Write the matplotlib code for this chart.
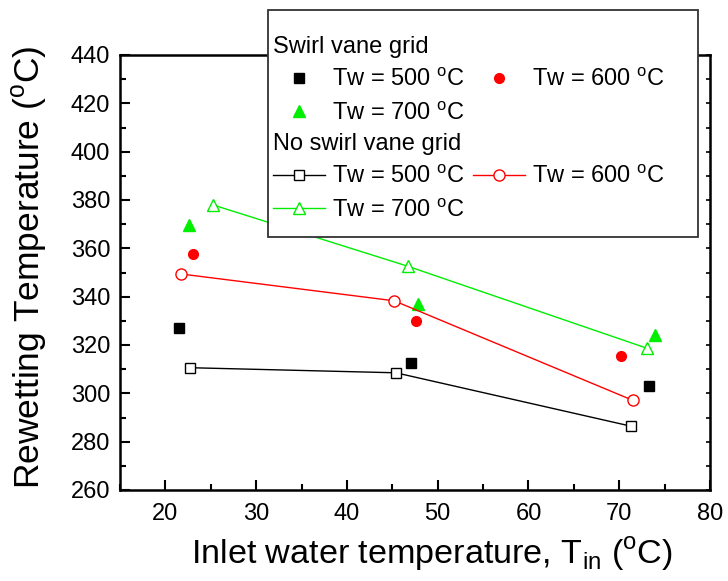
import matplotlib
matplotlib.use("Agg")
import matplotlib.pyplot as plt
from matplotlib.patches import Rectangle
from matplotlib.ticker import MultipleLocator

plt.rcParams['font.family'] = 'Liberation Sans'
plt.rcParams['mathtext.fontset'] = 'custom'
plt.rcParams['mathtext.rm'] = 'Liberation Sans'

# swirl vane grid (filled markers)
sw500_x = [21.5, 47.1, 73.3]
sw500_y = [326.9, 312.7, 303.0]
sw600_x = [23.0, 47.6, 70.2]
sw600_y = [357.7, 330.0, 315.3]
sw700_x = [22.6, 47.8, 73.9]
sw700_y = [369.5, 337.0, 324.2]

# no swirl vane grid (open markers + lines)
ns500_x = [22.75, 45.4, 71.3]
ns500_y = [310.6, 308.5, 286.4]
ns600_x = [21.7, 45.2, 71.5]
ns600_y = [349.4, 338.3, 297.1]
ns700_x = [25.3, 46.7, 73.1]
ns700_y = [377.9, 352.6, 318.6]

lab500 = r'Tw = 500 $^{\mathregular{o}}$C'
lab600 = r'Tw = 600 $^{\mathregular{o}}$C'
lab700 = r'Tw = 700 $^{\mathregular{o}}$C'

fig = plt.figure(figsize=(7.28, 5.81), dpi=100)
ax = fig.add_axes([120/728, 1-490/581, 590/728, 435/581])

h1, = ax.plot(sw500_x, sw500_y, 's', color='black', ms=6.5, ls='none')
h2, = ax.plot(sw600_x, sw600_y, 'o', color='red', ms=7, ls='none')
h3, = ax.plot(sw700_x, sw700_y, '^', color='#00ee00', ms=8, ls='none')

h4, = ax.plot(ns500_x, ns500_y, 's-', color='black', mfc='white', ms=7, lw=1, mew=1)
h5, = ax.plot(ns600_x, ns600_y, 'o-', color='red', mfc='white', ms=8, lw=1, mew=1)
h6, = ax.plot(ns700_x, ns700_y, '^-', color='#00ee00', mfc='white', ms=8, lw=1, mew=1)

ax.set_xlim(15, 80)
ax.set_ylim(260, 440)
ax.xaxis.set_major_locator(MultipleLocator(10))
ax.xaxis.set_minor_locator(MultipleLocator(5))
ax.yaxis.set_major_locator(MultipleLocator(20))
ax.yaxis.set_minor_locator(MultipleLocator(10))
ax.tick_params(which='both', direction='in', labelsize=17, width=1.5)
ax.tick_params(which='major', length=7)
ax.tick_params(which='minor', length=4)
ax.tick_params(axis='y', which='both', pad=7)
ax.tick_params(axis='x', which='both', pad=9)
for s in ax.spines.values():
    s.set_linewidth(1.8)

# short ticks on the right spine
ax_r = ax.secondary_yaxis('right')
ax_r.yaxis.set_major_locator(MultipleLocator(10))
ax_r.tick_params(direction='in', length=3, width=1.2, labelright=False)

ax.set_xlabel(r'Inlet water temperature, T$_{\mathregular{in}}$ ($^{\mathregular{o}}$C)', fontsize=24.6)
ax.set_ylabel(r'Rewetting Temperature ($^{\mathregular{o}}$C)', fontsize=25.5)
ax.xaxis.set_label_coords(0.529, -0.105)
ax.yaxis.set_label_coords(-0.12, 0.513)

# legend box drawn over the axes
box = Rectangle((268/728, 1-237/581), 430/728, 227/581, transform=fig.transFigure,
                facecolor='white', edgecolor='#333333', lw=1.3, zorder=5)
fig.patches.append(box)

kw = dict(ncol=2, frameon=False, fontsize=17, title_fontsize=17, loc='upper left',
          borderaxespad=0, borderpad=0, handlelength=2.2, handletextpad=0.3,
          columnspacing=0.35, labelspacing=0.44, alignment='left')
leg1 = fig.legend([h1, h3, h2], [lab500, lab700, lab600], title='Swirl vane grid',
                  bbox_to_anchor=(273/728, 1-36/581), **kw)
leg2 = fig.legend([h4, h6, h5], [lab500, lab700, lab600], title='No swirl vane grid',
                  bbox_to_anchor=(273/728, 1-133/581), **kw)
leg1.set_zorder(6)
leg2.set_zorder(6)

fig.savefig('out.png', dpi=100)
